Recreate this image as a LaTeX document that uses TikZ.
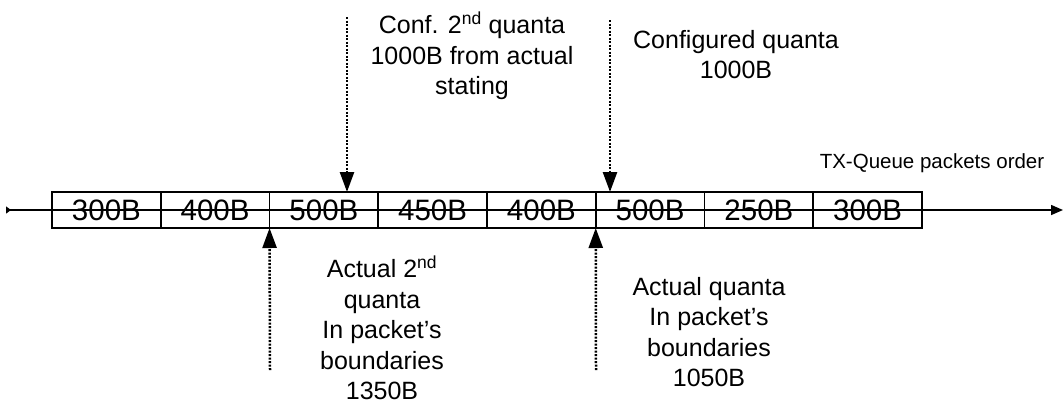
\documentclass[tikz,border=0pt]{standalone}
\usepackage{fontspec}
\setmainfont{Liberation Sans}
\usetikzlibrary{arrows.meta}
\begin{document}
\begin{tikzpicture}[x=1pt,y=-1pt,
  pkt/.style={draw, line width=1.5pt, minimum width=108.75pt, minimum height=36pt, inner sep=0pt, outer sep=0pt, font=\fontsize{29.5}{30}\selectfont},
  lbl/.style={align=center, inner sep=0pt, anchor=north, font=\fontsize{25}{30.5}\selectfont},
  dotarrow/.style={line width=2.5pt, dash pattern=on 2pt off 1.5pt, -{Triangle[length=20pt,width=14pt]}},
  mainline/.style={line width=1.5pt, {Triangle[reversed,length=5pt,width=7pt]}-{Triangle[length=12pt,width=10pt]}}]
\useasboundingbox (0,0) rectangle (1064,405);
% packets
\node[pkt] (b1) at (106.4,210) {300B};
\node[pkt] (b2) at (215.1,210) {400B};
\node[pkt] (b3) at (323.9,210) {500B};
\node[pkt] (b4) at (432.6,210) {450B};
\node[pkt] (b5) at (541.4,210) {400B};
\node[pkt] (b6) at (650.1,210) {500B};
\node[pkt] (b7) at (758.9,210) {250B};
\node[pkt] (b8) at (867.6,210) {300B};
% main line
\coordinate (ls) at (6,210);
\coordinate (le) at (1063,210);
\draw[mainline] (ls) -- (le);
% labels
\node[lbl] (conf) at (472,12) {Conf. 2\textsuperscript{nd} quanta\\1000B from actual\\stating};
\node[lbl] (cfg) at (736,30) {Configured quanta\\1000B};
\node[inner sep=0pt, font=\fontsize{20.5}{22}\selectfont] (txq) at (932,163) {TX-Queue packets order};
\node[lbl] (act2) at (382,256) {Actual 2\textsuperscript{nd}\\quanta\\In packet’s\\boundaries\\1350B};
\node[lbl] (act) at (709,277) {Actual quanta\\In packet’s\\boundaries\\1050B};
% arrows
\coordinate (d1) at (347,17);
\coordinate (d2) at (610,20);
\coordinate (u1) at (270,370);
\coordinate (u2) at (596,370);
\draw[dotarrow] (d1) -- (d1 |- b3.north);
\draw[dotarrow] (d2) -- (d2 |- b6.north);
\draw[dotarrow] (u1) -- (b3.south west);
\draw[dotarrow] (u2) -- (b6.south west);
\end{tikzpicture}
\end{document}
